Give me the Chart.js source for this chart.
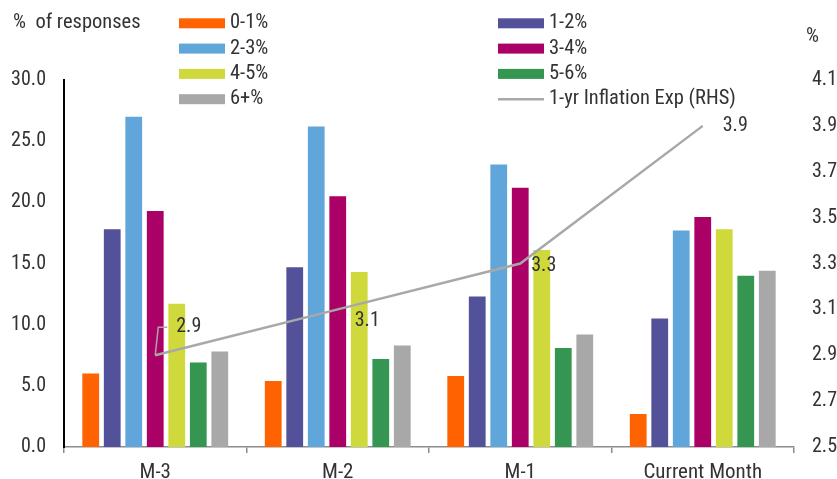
<!DOCTYPE html>
<html>
<head>
<meta charset="utf-8">
<title>Inflation expectations survey</title>
<script src="https://cdn.jsdelivr.net/npm/chart.js@4/dist/chart.umd.min.js"></script>
<style>
  html, body { margin: 0; padding: 0; background: #ffffff; }
  #wrap { width: 837px; height: 479px; position: relative; }
</style>
</head>
<body>
<div id="wrap"><canvas id="chart" width="837" height="479"></canvas></div>
<script>
// Survey periods
const categories = ['M-3', 'M-2', 'M-1', 'Current Month'];

// Share of responses per expected-inflation bucket (% of responses)
const bucketLabels = ['0-1%', '1-2%', '2-3%', '3-4%', '4-5%', '5-6%', '6+%'];
const resp0to1 = [6.0, 5.4, 5.8, 2.7];
const resp1to2 = [17.8, 14.7, 12.3, 10.5];
const resp2to3 = [27.0, 26.2, 23.1, 17.7];
const resp3to4 = [19.3, 20.5, 21.2, 18.8];
const resp4to5 = [11.7, 14.3, 16.1, 17.8];
const resp5to6 = [6.9, 7.2, 8.1, 14.0];
const resp6plus = [7.8, 8.3, 9.2, 14.4];

// Median one-year-ahead inflation expectation (%, right-hand scale)
const lineLabel = '1-yr Inflation Exp (RHS)';
const inflationExp = [2.9, 3.1, 3.3, 3.9];

// Axis ranges and tick steps
const leftTicks = { min: 0, max: 30, step: 5 };
const rightTicks = { min: 2.5, max: 4.1, step: 0.2 };

const bucketColors = ['#ff6200', '#525199', '#60a6da', '#ab0066', '#d0d93c', '#349651', '#a8a8a8'];
const lineColor = '#a8a8a8';
const textColor = '#333333';
const FONT = '"Roboto Condensed", "Liberation Sans Narrow", "DejaVu Sans Condensed", sans-serif';
const LABEL_SIZE = 20.5;

Chart.defaults.font.family = FONT;
Chart.defaults.font.size = 20;
Chart.defaults.color = textColor;

const bucketSeries = [resp0to1, resp1to2, resp2to3, resp3to4, resp4to5, resp5to6, resp6plus];

const datasets = bucketSeries.map((values, i) => ({
  type: 'bar',
  label: bucketLabels[i],
  data: values,
  backgroundColor: bucketColors[i],
  borderWidth: 0,
  categoryPercentage: 0.825,
  barPercentage: 0.78,
  yAxisID: 'y',
  order: 1
}));

datasets.push({
  type: 'line',
  label: lineLabel,
  data: inflationExp,
  borderColor: lineColor,
  backgroundColor: lineColor,
  borderWidth: 2.5,
  pointRadius: 0,
  tension: 0,
  yAxisID: 'y1',
  order: 0
});

// Value labels next to the line, with a short leader line on the first point
const lineValueLabels = {
  id: 'lineValueLabels',
  afterDatasetsDraw(chart) {
    const idx = chart.data.datasets.findIndex(d => d.type === 'line');
    const meta = chart.getDatasetMeta(idx);
    const values = chart.data.datasets[idx].data;
    const offsets = [[21, -28], [17, 12], [11, 2], [20, 0]];
    const ctx = chart.ctx;
    ctx.save();
    ctx.font = '20px ' + FONT;
    ctx.fillStyle = textColor;
    ctx.textAlign = 'left';
    ctx.textBaseline = 'middle';
    meta.data.forEach((pt, i) => {
      const [dx, dy] = offsets[i];
      if (i === 0) {
        ctx.strokeStyle = lineColor;
        ctx.lineWidth = 1.5;
        ctx.beginPath();
        ctx.moveTo(pt.x, pt.y);
        ctx.lineTo(pt.x + 3, pt.y + dy);
        ctx.lineTo(pt.x + 12, pt.y + dy);
        ctx.stroke();
      }
      ctx.fillText(values[i].toFixed(1), pt.x + dx, pt.y + dy);
    });
    ctx.restore();
  }
};

// Two-column legend and the axis unit captions
const legendAndTitles = {
  id: 'legendAndTitles',
  afterDraw(chart) {
    const ctx = chart.ctx;
    const ds = chart.data.datasets;
    const colX = [179, 498];
    const rowY0 = 23.3, rowStep = 25.3;
    const swW = 46, swH = 10;
    ctx.save();
    ctx.font = LABEL_SIZE + 'px ' + FONT;
    ctx.fillStyle = textColor;
    ctx.textBaseline = 'middle';
    ctx.textAlign = 'left';
    ds.forEach((d, i) => {
      const x = colX[i % 2];
      const y = rowY0 + Math.floor(i / 2) * rowStep;
      if (d.type === 'line') {
        ctx.strokeStyle = d.borderColor;
        ctx.lineWidth = 2.5;
        ctx.beginPath();
        ctx.moveTo(x, y);
        ctx.lineTo(x + swW, y);
        ctx.stroke();
      } else {
        ctx.fillStyle = d.backgroundColor;
        ctx.fillRect(x, y - swH / 2, swW, swH);
      }
      ctx.fillStyle = textColor;
      ctx.fillText(d.label, x + swW + 5, y);
    });
    ctx.fillText('%  of responses', 13, 23);
    ctx.fillText('%', 806, 37);
    ctx.restore();
  }
};

new Chart(document.getElementById('chart'), {
  data: { labels: categories, datasets },
  options: {
    responsive: false,
    animation: false,
    devicePixelRatio: 1,
    layout: { padding: { top: 80, left: 0, right: 0, bottom: 0 } },
    plugins: { legend: { display: false }, tooltip: { enabled: false } },
    scales: {
      x: {
        offset: true,
        grid: {
          display: true,
          offset: true,
          drawOnChartArea: false,
          drawTicks: true,
          tickLength: 6,
          color: '#8c8c8c',
          lineWidth: 1.5
        },
        border: { display: true, color: '#8c8c8c', width: 1.5 },
        ticks: { padding: 7, color: textColor, maxRotation: 0, font: { size: 21 } },
        afterFit(scale) { scale.height = 32; }
      },
      y: {
        position: 'left',
        min: leftTicks.min,
        max: leftTicks.max,
        grid: { display: false, drawTicks: false },
        border: { display: true, color: '#000000', width: 2 },
        ticks: {
          stepSize: leftTicks.step,
          padding: 18,
          color: textColor,
          callback: v => Number(v).toFixed(1)
        },
        afterFit(scale) { scale.width = 64; }
      },
      y1: {
        position: 'right',
        min: rightTicks.min,
        max: rightTicks.max,
        grid: { display: false, drawTicks: false },
        border: { display: false },
        ticks: {
          stepSize: rightTicks.step,
          padding: 18,
          color: textColor,
          callback: v => Number(v).toFixed(1)
        },
        afterFit(scale) { scale.width = 43; }
      }
    }
  },
  plugins: [lineValueLabels, legendAndTitles]
});
</script>
</body>
</html>
